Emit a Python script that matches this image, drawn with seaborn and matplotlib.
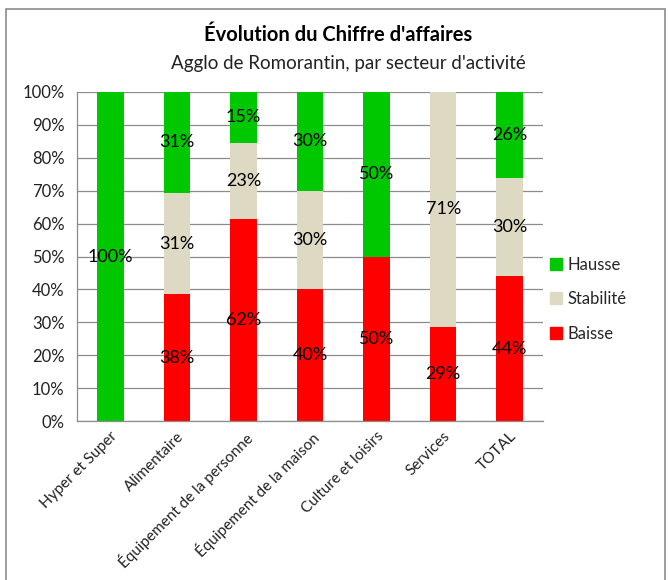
import matplotlib
matplotlib.use("Agg")
import matplotlib.pyplot as plt
import matplotlib.patches as mpatches
from matplotlib.lines import Line2D
import numpy as np
import pandas as pd
import seaborn as sns

# Data (share of answers, %)
secteurs = ["Hyper et Super", "Alimentaire", "Équipement de la personne",
            "Équipement de la maison", "Culture et loisirs", "Services", "TOTAL"]
baisse = [0, 38.5, 61.5, 40, 50, 28.6, 44]
stabilite = [0, 30.8, 23.1, 30, 0, 71.4, 30]
hausse = [100, 30.8, 15.4, 30, 50, 0, 26]

series = ["Baisse", "Stabilité", "Hausse"]
colors = {"Hausse": "#00C800", "Stabilité": "#DDD9C3", "Baisse": "#FF0000"}

df = pd.DataFrame({"secteur": secteurs, "Baisse": baisse,
                   "Stabilité": stabilite, "Hausse": hausse})

sns.set_style("white")
plt.rcParams["font.family"] = ["Lato", "DejaVu Sans"]

fig = plt.figure(figsize=(6.68, 5.8), dpi=100)
ax = fig.add_axes([0.1153, 0.2741, 0.8129 - 0.1153, 0.8414 - 0.2741])

# stack the three series
bottom = np.zeros(len(secteurs))
for s in series:
    sns.barplot(data=df, x="secteur", y=s, order=secteurs, color=colors[s],
                width=0.4, bottom=bottom, saturation=1, linewidth=0, ax=ax)
    cont = ax.containers[-1]
    labels = [f"{v:.0f}%" if v > 0 else "" for v in df[s]]
    ax.bar_label(cont, labels=labels, label_type="center", fontsize=13, color="black")
    bottom = bottom + df[s].values

ax.set_ylim(0, 100)
ax.set_xlim(-0.5, len(secteurs) - 0.5)
ax.set_yticks(np.arange(0, 101, 10))
ax.set_yticklabels([f"{t}%" for t in range(0, 101, 10)], fontsize=12, color="#222222")
ax.yaxis.grid(True, color="#8c8c8c", linewidth=0.9)
ax.set_axisbelow(True)
ax.set_xlabel("")
ax.set_ylabel("")

# category separators as minor ticks on the x axis
ax.set_xticks(np.arange(-0.5, len(secteurs), 1), minor=True)
ax.tick_params(axis="x", which="major", length=0, pad=6)
ax.tick_params(axis="x", which="minor", length=5, color="#8c8c8c", width=0.9)
ax.tick_params(axis="y", length=5, color="#8c8c8c", width=0.9, pad=4)
ax.set_xticks(range(len(secteurs)))
ax.set_xticklabels(secteurs, rotation=45, ha="right", rotation_mode="anchor",
                   fontsize=11, color="#222222")

for side in ["top", "right"]:
    ax.spines[side].set_visible(False)
for side in ["left", "bottom"]:
    ax.spines[side].set_color("#8c8c8c")
    ax.spines[side].set_linewidth(0.9)

# titles
fig.text(0.506, 0.94, "Évolution du Chiffre d'affaires", ha="center", va="center",
         fontsize=14.5, fontweight="bold", color="black")
fig.text(0.521, 0.891, "Agglo de Romorantin, par secteur d'activité", ha="center",
         va="center", fontsize=13.5, color="#222222")

# legend
handles = [Line2D([], [], marker="s", linestyle="", markersize=9,
                  markerfacecolor=colors[s], markeredgecolor=colors[s])
           for s in ["Hausse", "Stabilité", "Baisse"]]
fig.legend(handles, ["Hausse", "Stabilité", "Baisse"], loc="center left",
           bbox_to_anchor=(0.795, 0.484), frameon=False, fontsize=12,
           labelspacing=1.12, handletextpad=0.1, handlelength=1.2)

# outer chart frame
frame = mpatches.Rectangle((6 / 668, -0.05), (665 - 6) / 668, 1.05 - 9 / 580,
                           transform=fig.transFigure, fill=False,
                           edgecolor="#8c8c8c", linewidth=1.2)
fig.patches.append(frame)

fig.savefig("out.png", dpi=100)
